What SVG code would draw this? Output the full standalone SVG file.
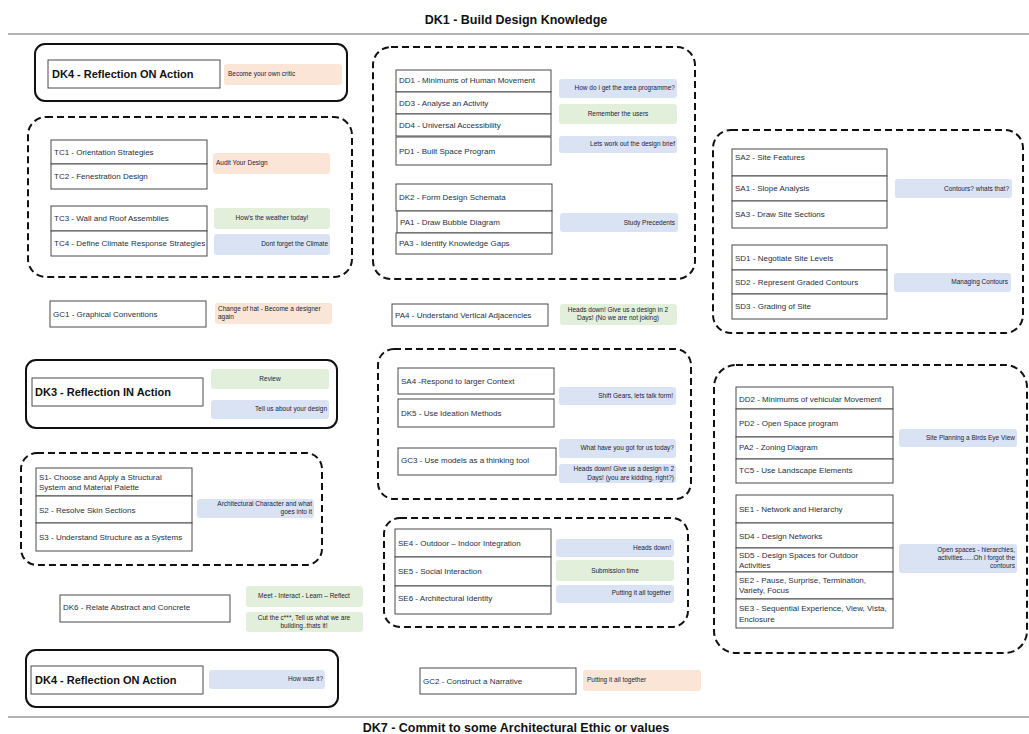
<svg xmlns="http://www.w3.org/2000/svg" width="1029" height="734" viewBox="0 0 1029 734">
<style>
text{font-family:"Liberation Sans",Arial,sans-serif;fill:#262f45}
.t{font-size:8px}
.n{font-size:6.5px;fill:#1c2233}
.h{font-size:11px;font-weight:bold;fill:#111}
.ttl{font-size:12.5px;font-weight:bold;fill:#111}
.bx{fill:#fff;stroke:#4a4a4a;stroke-width:1}
.solid{fill:none;stroke:#111;stroke-width:2}
.dash{fill:none;stroke:#111;stroke-width:2;stroke-dasharray:7 4}
.pe{fill:#fbe5d6}
.gr{fill:#e2efda}
.bl{fill:#dae3f3}
.r{text-anchor:end}
.c{text-anchor:middle}
</style>
<rect width="1029" height="734" fill="#fff"/>
<g id="header">
<text class="ttl c" x="516" y="24">DK1 - Build Design Knowledge</text>
<line x1="8" y1="34" x2="1029" y2="34" stroke="#666" stroke-width="1"/>
</g>
<g id="footer">
<line x1="8" y1="717" x2="1029" y2="717" stroke="#999" stroke-width="1.5"/>
<text class="ttl c" x="516" y="732">DK7 - Commit to some Architectural Ethic or values</text>
</g>
<g id="connectors"></g>

<g id="grp-dk4-top">
<rect class="solid" x="35" y="44" width="312" height="57" rx="10"/>
<rect class="bx" x="48" y="60" width="172" height="28"/>
<text class="h" x="52" y="78">DK4 - Reflection ON Action</text>
<rect class="pe" x="224" y="64" width="118" height="21" rx="3"/>
<text class="n" x="228" y="76">Become your own critic</text>
</g>

<g id="grp-tc">
<rect class="dash" x="28" y="117" width="324" height="160" rx="18"/>
<rect class="bx" x="51" y="140" width="156" height="24"/>
<text class="t" x="54" y="155">TC1 - Orientation Strategies</text>
<rect class="bx" x="51" y="164" width="156" height="25"/>
<text class="t" x="54" y="179">TC2 - Fenestration Design</text>
<rect class="pe" x="213" y="153" width="117" height="21" rx="3"/>
<text class="n" x="216" y="165">Audit Your Design</text>
<rect class="bx" x="51" y="206" width="156" height="25"/>
<text class="t" x="54" y="221">TC3 - Wall and Roof Assemblies</text>
<rect class="bx" x="51" y="231" width="156" height="25"/>
<text class="t" x="54" y="246">TC4 - Define Climate Response Strategies</text>
<rect class="gr" x="214" y="208" width="116" height="21" rx="3"/>
<text class="n c" x="272" y="220">How's the weather today!</text>
<rect class="bl" x="214" y="234" width="116" height="21" rx="3"/>
<text class="n r" x="328" y="246">Dont forget the Climate</text>
</g>

<g id="grp-gc1">
<rect class="bx" x="50" y="301" width="156" height="26"/>
<text class="t" x="53" y="317">GC1 - Graphical Conventions</text>
<rect class="pe" x="215" y="303" width="117" height="21" rx="3"/>
<text class="n" x="218" y="311">Change of hat - Become a designer</text>
<text class="n" x="218" y="319">again</text>
</g>

<g id="grp-dk3">
<rect class="solid" x="26" y="360" width="311" height="68" rx="10"/>
<rect class="bx" x="32" y="378" width="171" height="28"/>
<text class="h" x="35" y="396">DK3 - Reflection IN Action</text>
<rect class="gr" x="211" y="369" width="118" height="20" rx="3"/>
<text class="n c" x="270" y="381">Review</text>
<rect class="bl" x="211" y="400" width="118" height="19" rx="3"/>
<text class="n r" x="327" y="411">Tell us about your design</text>
</g>

<g id="grp-s">
<rect class="dash" x="21" y="453" width="301" height="112" rx="16"/>
<rect class="bx" x="36" y="468" width="156" height="28"/>
<text class="t" x="39" y="480">S1- Choose and Apply a Structural</text>
<text class="t" x="39" y="490">System and Material Palette</text>
<rect class="bx" x="36" y="496" width="156" height="27"/>
<text class="t" x="39" y="513">S2 - Resolve Skin Sections</text>
<rect class="bx" x="36" y="523" width="156" height="28"/>
<text class="t" x="39" y="540">S3 - Understand Structure as a Systems</text>
<rect class="bl" x="197" y="499" width="117" height="19" rx="3"/>
<text class="n r" x="312" y="506">Architectural Character and what</text>
<text class="n r" x="312" y="514">goes into it</text>
</g>

<g id="grp-dk6">
<rect class="bx" x="60" y="595" width="170" height="27"/>
<text class="t" x="63" y="610">DK6 - Relate Abstract and Concrete</text>
<rect class="gr" x="246" y="586" width="117" height="21" rx="3"/>
<text class="n c" x="304" y="598">Meet - Interact - Learn – Reflect</text>
<rect class="gr" x="246" y="612" width="117" height="20" rx="3"/>
<text class="n c" x="304" y="620">Cut the c***, Tell us what we are</text>
<text class="n c" x="304" y="628">building..thats it!</text>
</g>

<g id="grp-dk4-bottom">
<rect class="solid" x="26" y="650" width="312" height="57" rx="10"/>
<rect class="bx" x="31" y="666" width="172" height="28"/>
<text class="h" x="35" y="684">DK4 - Reflection ON Action</text>
<rect class="bl" x="209" y="670" width="116" height="19" rx="3"/>
<text class="n r" x="323" y="681">How was it?</text>
</g>

<g id="grp-dd">
<rect class="dash" x="373" y="47" width="322" height="232" rx="18"/>
<rect class="bx" x="396" y="70" width="155" height="22"/>
<text class="t" x="399" y="83">DD1 - Minimums of Human Movement</text>
<rect class="bx" x="396" y="92" width="155" height="22"/>
<text class="t" x="399" y="106">DD3 - Analyse an Activity</text>
<rect class="bx" x="396" y="114" width="155" height="22"/>
<text class="t" x="399" y="128">DD4 - Universal Accessibility</text>
<rect class="bx" x="396" y="137" width="155" height="28"/>
<text class="t" x="399" y="154">PD1 - Built Space Program</text>
<rect class="bl" x="559" y="79" width="118" height="19" rx="3"/>
<text class="n r" x="675" y="90">How do i get the area programme?</text>
<rect class="gr" x="559" y="104" width="118" height="20" rx="3"/>
<text class="n c" x="618" y="116">Remember the users</text>
<rect class="bl" x="559" y="136" width="118" height="17" rx="3"/>
<text class="n r" x="675" y="146">Lets work out the design brief</text>
<rect class="bx" x="396" y="184" width="156" height="27"/>
<text class="t" x="399" y="200">DK2 - Form Design Schemata</text>
<rect class="bx" x="397" y="211" width="155" height="22"/>
<text class="t" x="400" y="225">PA1 - Draw Bubble Diagram</text>
<rect class="bx" x="396" y="233" width="156" height="21"/>
<text class="t" x="399" y="246">PA3 - Identify Knowledge Gaps</text>
<rect class="bl" x="560" y="213" width="118" height="19" rx="3"/>
<text class="n r" x="675" y="225">Study Precedents</text>
</g>

<g id="grp-pa4">
<rect class="bx" x="392" y="304" width="156" height="22"/>
<text class="t" x="395" y="318">PA4 - Understand Vertical Adjacencies</text>
<rect class="gr" x="560" y="304" width="117" height="21" rx="3"/>
<text class="n c" x="618" y="312">Heads down! Give us a design in 2</text>
<text class="n c" x="618" y="320">Days! (No we are not joking)</text>
</g>

<g id="grp-sa4">
<rect class="dash" x="378" y="349" width="313" height="150" rx="16"/>
<rect class="bx" x="398" y="368" width="156" height="26"/>
<text class="t" x="401" y="384">SA4 -Respond to larger Context</text>
<rect class="bx" x="398" y="399" width="156" height="28"/>
<text class="t" x="401" y="416">DK5 - Use Ideation Methods</text>
<rect class="bl" x="559" y="387" width="117" height="18" rx="3"/>
<text class="n r" x="673" y="398">Shift Gears, lets talk form!</text>
<rect class="bx" x="398" y="448" width="158" height="27"/>
<text class="t" x="401" y="463">GC3 - Use models as a thinking tool</text>
<rect class="bl" x="559" y="439" width="117" height="19" rx="3"/>
<text class="n r" x="674" y="450">What have you got for us today?</text>
<rect class="bl" x="559" y="464" width="117" height="19" rx="3"/>
<text class="n r" x="674" y="471">Heads down! Give us a design in 2</text>
<text class="n r" x="674" y="480">Days! (you are kidding, right?)</text>
</g>

<g id="grp-se">
<rect class="dash" x="384" y="518" width="304" height="109" rx="16"/>
<rect class="bx" x="395" y="529" width="156" height="28"/>
<text class="t" x="398" y="546">SE4 - Outdoor – Indoor Integration</text>
<rect class="bx" x="395" y="557" width="156" height="29"/>
<text class="t" x="398" y="574">SE5 - Social Interaction</text>
<rect class="bx" x="395" y="586" width="156" height="28"/>
<text class="t" x="398" y="601">SE6 - Architectural Identity</text>
<rect class="bl" x="556" y="539" width="118" height="18" rx="3"/>
<text class="n r" x="671" y="550">Heads down!</text>
<rect class="gr" x="556" y="560" width="118" height="21" rx="3"/>
<text class="n c" x="615" y="573">Submission time</text>
<rect class="bl" x="556" y="585" width="118" height="18" rx="3"/>
<text class="n r" x="671" y="595">Putting it all together</text>
</g>

<g id="grp-gc2">
<rect class="bx" x="420" y="668" width="156" height="26"/>
<text class="t" x="423" y="684">GC2 - Construct a Narrative</text>
<rect class="pe" x="583" y="670" width="118" height="21" rx="3"/>
<text class="n" x="587" y="682">Putting it all together</text>
</g>

<g id="grp-sa">
<rect class="dash" x="713" y="130" width="310" height="203" rx="18"/>
<rect class="bx" x="732" y="149" width="155" height="27"/>
<text class="t" x="735" y="160">SA2 - Site Features</text>
<rect class="bx" x="732" y="176" width="155" height="25"/>
<text class="t" x="735" y="191">SA1 - Slope Analysis</text>
<rect class="bx" x="732" y="201" width="155" height="27"/>
<text class="t" x="735" y="217">SA3 - Draw Site Sections</text>
<rect class="bl" x="895" y="179" width="117" height="19" rx="3"/>
<text class="n r" x="1009" y="191">Contours? whats that?</text>
<rect class="bx" x="732" y="245" width="155" height="25"/>
<text class="t" x="735" y="261">SD1 - Negotiate Site Levels</text>
<rect class="bx" x="732" y="270" width="155" height="24"/>
<text class="t" x="735" y="285">SD2 - Represent Graded Contours</text>
<rect class="bx" x="732" y="294" width="155" height="25"/>
<text class="t" x="735" y="309">SD3 - Grading of Site</text>
<rect class="bl" x="894" y="273" width="117" height="19" rx="3"/>
<text class="n r" x="1008" y="284">Managing Contours</text>
</g>

<g id="grp-site">
<rect class="dash" x="714" y="365" width="313" height="288" rx="22"/>
<rect class="bx" x="736" y="387" width="157" height="22"/>
<text class="t" x="739" y="402">DD2 - Minimums of vehicular Movement</text>
<rect class="bx" x="736" y="409" width="157" height="28"/>
<text class="t" x="739" y="426">PD2 - Open Space program</text>
<rect class="bx" x="736" y="437" width="157" height="22"/>
<text class="t" x="739" y="450">PA2 - Zoning Diagram</text>
<rect class="bx" x="736" y="459" width="157" height="24"/>
<text class="t" x="739" y="473">TC5 - Use Landscape Elements</text>
<rect class="bl" x="899" y="429" width="118" height="18" rx="3"/>
<text class="n r" x="1015" y="440">Site Planning a Birds Eye View</text>
<rect class="bx" x="736" y="495" width="157" height="28"/>
<text class="t" x="739" y="512">SE1 - Network and Hierarchy</text>
<rect class="bx" x="736" y="523" width="157" height="25"/>
<text class="t" x="739" y="539">SD4 - Design Networks</text>
<rect class="bx" x="736" y="548" width="157" height="24"/>
<text class="t" x="739" y="558">SD5 - Design Spaces for Outdoor</text>
<text class="t" x="739" y="568">Activities</text>
<rect class="bx" x="736" y="572" width="157" height="27"/>
<text class="t" x="739" y="583">SE2 - Pause, Surprise, Termination,</text>
<text class="t" x="739" y="593">Variety, Focus</text>
<rect class="bx" x="736" y="599" width="157" height="29"/>
<text class="t" x="739" y="611">SE3 - Sequential Experience, View, Vista,</text>
<text class="t" x="739" y="622">Enclosure</text>
<rect class="bl" x="899" y="544" width="118" height="29" rx="3"/>
<text class="n r" x="1015" y="552">Open spaces - hierarchies,</text>
<text class="n r" x="1015" y="560">activities......Oh I forgot the</text>
<text class="n r" x="1015" y="568">contours</text>
</g>
</svg>
